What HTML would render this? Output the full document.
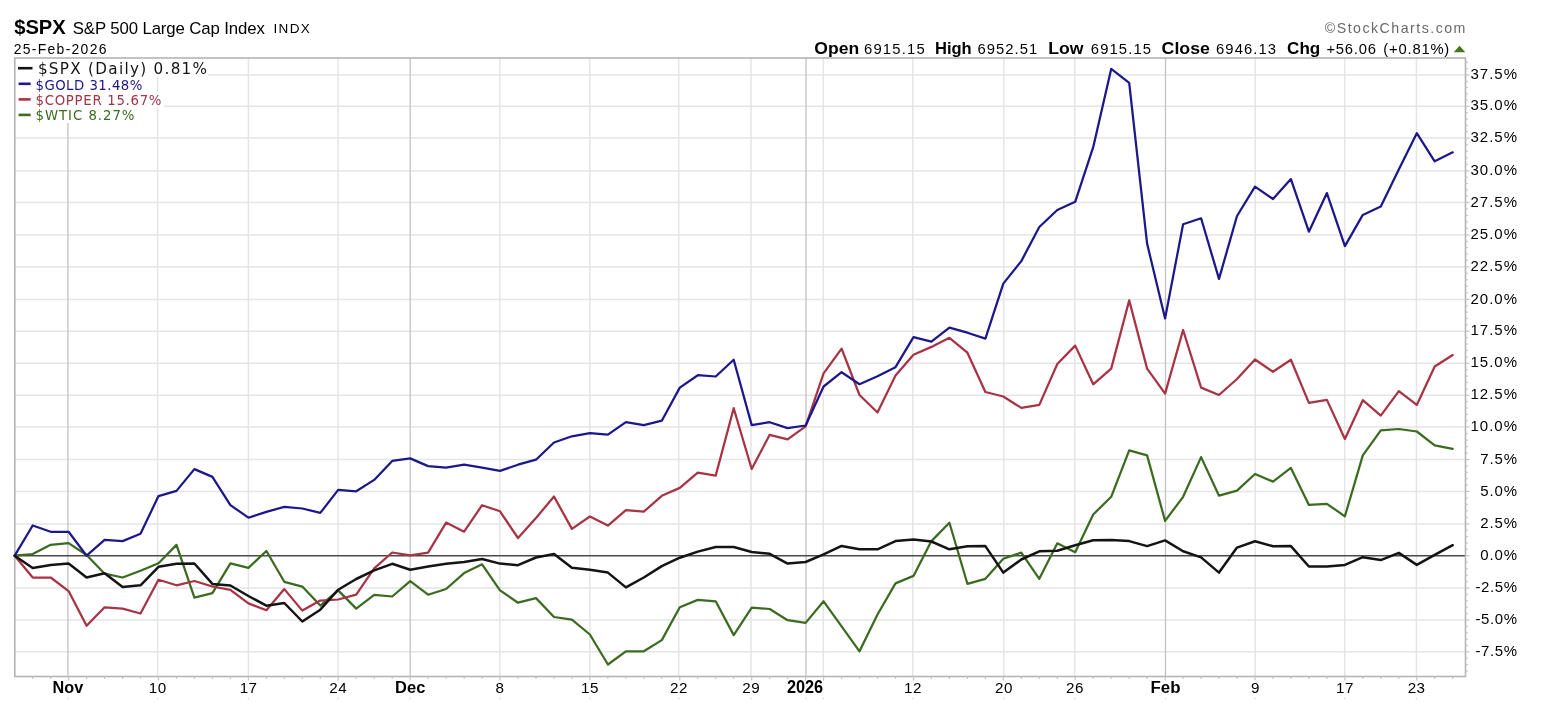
<!DOCTYPE html><html><head><meta charset="utf-8"><title>$SPX</title><style>html,body{margin:0;padding:0;background:#fff}svg{display:block}text{font-family:"Liberation Sans",sans-serif}.v{font-family:"DejaVu Sans",sans-serif}</style></head><body>
<svg width="1541" height="721" viewBox="0 0 1541 721">
<rect width="1541" height="721" fill="#fff"/>
<g stroke="#e5e5e5" stroke-width="1.5"><line x1="14.8" x2="1465.5" y1="651.8" y2="651.8"/><line x1="14.8" x2="1465.5" y1="620.0" y2="620.0"/><line x1="14.8" x2="1465.5" y1="588.1" y2="588.1"/><line x1="14.8" x2="1465.5" y1="523.9" y2="523.9"/><line x1="14.8" x2="1465.5" y1="491.4" y2="491.4"/><line x1="14.8" x2="1465.5" y1="459.6" y2="459.6"/><line x1="14.8" x2="1465.5" y1="427.1" y2="427.1"/><line x1="14.8" x2="1465.5" y1="395.3" y2="395.3"/><line x1="14.8" x2="1465.5" y1="363.3" y2="363.3"/><line x1="14.8" x2="1465.5" y1="331.2" y2="331.2"/><line x1="14.8" x2="1465.5" y1="299.4" y2="299.4"/><line x1="14.8" x2="1465.5" y1="266.7" y2="266.7"/><line x1="14.8" x2="1465.5" y1="234.9" y2="234.9"/><line x1="14.8" x2="1465.5" y1="202.5" y2="202.5"/><line x1="14.8" x2="1465.5" y1="170.9" y2="170.9"/><line x1="14.8" x2="1465.5" y1="138.1" y2="138.1"/><line x1="14.8" x2="1465.5" y1="106.3" y2="106.3"/><line x1="14.8" x2="1465.5" y1="75.0" y2="75.0"/></g>
<g stroke="#e5e5e5" stroke-width="1.5"><line x1="157.6" x2="157.6" y1="58.0" y2="676.5"/><line x1="248.4" x2="248.4" y1="58.0" y2="676.5"/><line x1="338.1" x2="338.1" y1="58.0" y2="676.5"/><line x1="499.8" x2="499.8" y1="58.0" y2="676.5"/><line x1="589.8" x2="589.8" y1="58.0" y2="676.5"/><line x1="678.7" x2="678.7" y1="58.0" y2="676.5"/><line x1="751.0" x2="751.0" y1="58.0" y2="676.5"/><line x1="823.3" x2="823.3" y1="58.0" y2="676.5"/><line x1="912.8" x2="912.8" y1="58.0" y2="676.5"/><line x1="1003.8" x2="1003.8" y1="58.0" y2="676.5"/><line x1="1074.7" x2="1074.7" y1="58.0" y2="676.5"/><line x1="1255.2" x2="1255.2" y1="58.0" y2="676.5"/><line x1="1344.7" x2="1344.7" y1="58.0" y2="676.5"/><line x1="1416.4" x2="1416.4" y1="58.0" y2="676.5"/></g>
<g stroke="#c4c4c4" stroke-width="1.35"><line x1="67.9" x2="67.9" y1="58.0" y2="676.5"/><line x1="410.2" x2="410.2" y1="58.0" y2="676.5"/><line x1="806.0" x2="806.0" y1="58.0" y2="676.5"/><line x1="1165.5" x2="1165.5" y1="58.0" y2="676.5"/></g>
<line x1="14.8" x2="1465.5" y1="555.7" y2="555.7" stroke="#4a4a4a" stroke-width="1.35"/>
<g fill="#fff"><rect x="15.4" y="58.8" width="192.6" height="18.2"/><rect x="16" y="77" width="128" height="15"/><rect x="16" y="92" width="148" height="16"/><rect x="16" y="108" width="122" height="15"/></g>
<rect x="14.8" y="58.0" width="1450.7" height="618.5" fill="none" stroke="#b4b4b4" stroke-width="1.6"/>
<g stroke="#c4c4c4" stroke-width="1.2"><line x1="1465.5" x2="1469.5" y1="651.8" y2="651.8"/><line x1="1465.5" x2="1467.9" y1="645.4" y2="645.4"/><line x1="1465.5" x2="1467.9" y1="639.1" y2="639.1"/><line x1="1465.5" x2="1467.9" y1="632.7" y2="632.7"/><line x1="1465.5" x2="1467.9" y1="626.4" y2="626.4"/><line x1="1465.5" x2="1469.5" y1="620.0" y2="620.0"/><line x1="1465.5" x2="1467.9" y1="613.6" y2="613.6"/><line x1="1465.5" x2="1467.9" y1="607.2" y2="607.2"/><line x1="1465.5" x2="1467.9" y1="600.9" y2="600.9"/><line x1="1465.5" x2="1467.9" y1="594.5" y2="594.5"/><line x1="1465.5" x2="1469.5" y1="588.1" y2="588.1"/><line x1="1465.5" x2="1467.9" y1="581.6" y2="581.6"/><line x1="1465.5" x2="1467.9" y1="575.1" y2="575.1"/><line x1="1465.5" x2="1467.9" y1="568.7" y2="568.7"/><line x1="1465.5" x2="1467.9" y1="562.2" y2="562.2"/><line x1="1465.5" x2="1469.5" y1="555.7" y2="555.7"/><line x1="1465.5" x2="1467.9" y1="549.3" y2="549.3"/><line x1="1465.5" x2="1467.9" y1="543.0" y2="543.0"/><line x1="1465.5" x2="1467.9" y1="536.6" y2="536.6"/><line x1="1465.5" x2="1467.9" y1="530.3" y2="530.3"/><line x1="1465.5" x2="1469.5" y1="523.9" y2="523.9"/><line x1="1465.5" x2="1467.9" y1="517.4" y2="517.4"/><line x1="1465.5" x2="1467.9" y1="510.9" y2="510.9"/><line x1="1465.5" x2="1467.9" y1="504.4" y2="504.4"/><line x1="1465.5" x2="1467.9" y1="497.9" y2="497.9"/><line x1="1465.5" x2="1469.5" y1="491.4" y2="491.4"/><line x1="1465.5" x2="1467.9" y1="485.0" y2="485.0"/><line x1="1465.5" x2="1467.9" y1="478.7" y2="478.7"/><line x1="1465.5" x2="1467.9" y1="472.3" y2="472.3"/><line x1="1465.5" x2="1467.9" y1="466.0" y2="466.0"/><line x1="1465.5" x2="1469.5" y1="459.6" y2="459.6"/><line x1="1465.5" x2="1467.9" y1="453.1" y2="453.1"/><line x1="1465.5" x2="1467.9" y1="446.6" y2="446.6"/><line x1="1465.5" x2="1467.9" y1="440.1" y2="440.1"/><line x1="1465.5" x2="1467.9" y1="433.6" y2="433.6"/><line x1="1465.5" x2="1469.5" y1="427.1" y2="427.1"/><line x1="1465.5" x2="1467.9" y1="420.7" y2="420.7"/><line x1="1465.5" x2="1467.9" y1="414.4" y2="414.4"/><line x1="1465.5" x2="1467.9" y1="408.0" y2="408.0"/><line x1="1465.5" x2="1467.9" y1="401.7" y2="401.7"/><line x1="1465.5" x2="1469.5" y1="395.3" y2="395.3"/><line x1="1465.5" x2="1467.9" y1="388.9" y2="388.9"/><line x1="1465.5" x2="1467.9" y1="382.5" y2="382.5"/><line x1="1465.5" x2="1467.9" y1="376.1" y2="376.1"/><line x1="1465.5" x2="1467.9" y1="369.7" y2="369.7"/><line x1="1465.5" x2="1469.5" y1="363.3" y2="363.3"/><line x1="1465.5" x2="1467.9" y1="356.9" y2="356.9"/><line x1="1465.5" x2="1467.9" y1="350.5" y2="350.5"/><line x1="1465.5" x2="1467.9" y1="344.0" y2="344.0"/><line x1="1465.5" x2="1467.9" y1="337.6" y2="337.6"/><line x1="1465.5" x2="1469.5" y1="331.2" y2="331.2"/><line x1="1465.5" x2="1467.9" y1="324.8" y2="324.8"/><line x1="1465.5" x2="1467.9" y1="318.5" y2="318.5"/><line x1="1465.5" x2="1467.9" y1="312.1" y2="312.1"/><line x1="1465.5" x2="1467.9" y1="305.8" y2="305.8"/><line x1="1465.5" x2="1469.5" y1="299.4" y2="299.4"/><line x1="1465.5" x2="1467.9" y1="292.9" y2="292.9"/><line x1="1465.5" x2="1467.9" y1="286.3" y2="286.3"/><line x1="1465.5" x2="1467.9" y1="279.8" y2="279.8"/><line x1="1465.5" x2="1467.9" y1="273.2" y2="273.2"/><line x1="1465.5" x2="1469.5" y1="266.7" y2="266.7"/><line x1="1465.5" x2="1467.9" y1="260.3" y2="260.3"/><line x1="1465.5" x2="1467.9" y1="254.0" y2="254.0"/><line x1="1465.5" x2="1467.9" y1="247.6" y2="247.6"/><line x1="1465.5" x2="1467.9" y1="241.3" y2="241.3"/><line x1="1465.5" x2="1469.5" y1="234.9" y2="234.9"/><line x1="1465.5" x2="1467.9" y1="228.4" y2="228.4"/><line x1="1465.5" x2="1467.9" y1="221.9" y2="221.9"/><line x1="1465.5" x2="1467.9" y1="215.5" y2="215.5"/><line x1="1465.5" x2="1467.9" y1="209.0" y2="209.0"/><line x1="1465.5" x2="1469.5" y1="202.5" y2="202.5"/><line x1="1465.5" x2="1467.9" y1="196.2" y2="196.2"/><line x1="1465.5" x2="1467.9" y1="189.9" y2="189.9"/><line x1="1465.5" x2="1467.9" y1="183.5" y2="183.5"/><line x1="1465.5" x2="1467.9" y1="177.2" y2="177.2"/><line x1="1465.5" x2="1469.5" y1="170.9" y2="170.9"/><line x1="1465.5" x2="1467.9" y1="164.3" y2="164.3"/><line x1="1465.5" x2="1467.9" y1="157.8" y2="157.8"/><line x1="1465.5" x2="1467.9" y1="151.2" y2="151.2"/><line x1="1465.5" x2="1467.9" y1="144.7" y2="144.7"/><line x1="1465.5" x2="1469.5" y1="138.1" y2="138.1"/><line x1="1465.5" x2="1467.9" y1="131.7" y2="131.7"/><line x1="1465.5" x2="1467.9" y1="125.4" y2="125.4"/><line x1="1465.5" x2="1467.9" y1="119.0" y2="119.0"/><line x1="1465.5" x2="1467.9" y1="112.7" y2="112.7"/><line x1="1465.5" x2="1469.5" y1="106.3" y2="106.3"/><line x1="1465.5" x2="1467.9" y1="100.0" y2="100.0"/><line x1="1465.5" x2="1467.9" y1="93.8" y2="93.8"/><line x1="1465.5" x2="1467.9" y1="87.5" y2="87.5"/><line x1="1465.5" x2="1467.9" y1="81.3" y2="81.3"/><line x1="1465.5" x2="1469.5" y1="75.0" y2="75.0"/><line x1="1465.5" x2="1467.9" y1="68.6" y2="68.6"/><line x1="1465.5" x2="1467.9" y1="62.2" y2="62.2"/><line x1="1465.5" x2="1467.9" y1="658.2" y2="658.2"/><line x1="1465.5" x2="1467.9" y1="664.6" y2="664.6"/><line x1="1465.5" x2="1467.9" y1="671.0" y2="671.0"/></g>
<g stroke="#c4c4c4" stroke-width="1.2"><line x1="32.7" x2="32.7" y1="676.5" y2="678.9"/><line x1="50.7" x2="50.7" y1="676.5" y2="678.9"/><line x1="68.6" x2="68.6" y1="676.5" y2="680.5"/><line x1="86.6" x2="86.6" y1="676.5" y2="678.9"/><line x1="104.6" x2="104.6" y1="676.5" y2="678.9"/><line x1="122.6" x2="122.6" y1="676.5" y2="678.9"/><line x1="140.5" x2="140.5" y1="676.5" y2="678.9"/><line x1="158.5" x2="158.5" y1="676.5" y2="680.5"/><line x1="176.5" x2="176.5" y1="676.5" y2="678.9"/><line x1="194.4" x2="194.4" y1="676.5" y2="678.9"/><line x1="212.4" x2="212.4" y1="676.5" y2="678.9"/><line x1="230.4" x2="230.4" y1="676.5" y2="678.9"/><line x1="248.4" x2="248.4" y1="676.5" y2="680.5"/><line x1="266.4" x2="266.4" y1="676.5" y2="678.9"/><line x1="284.3" x2="284.3" y1="676.5" y2="678.9"/><line x1="302.3" x2="302.3" y1="676.5" y2="678.9"/><line x1="320.3" x2="320.3" y1="676.5" y2="678.9"/><line x1="338.2" x2="338.2" y1="676.5" y2="680.5"/><line x1="356.2" x2="356.2" y1="676.5" y2="678.9"/><line x1="374.2" x2="374.2" y1="676.5" y2="678.9"/><line x1="392.2" x2="392.2" y1="676.5" y2="678.9"/><line x1="410.2" x2="410.2" y1="676.5" y2="680.5"/><line x1="428.1" x2="428.1" y1="676.5" y2="678.9"/><line x1="446.1" x2="446.1" y1="676.5" y2="678.9"/><line x1="464.1" x2="464.1" y1="676.5" y2="678.9"/><line x1="482.1" x2="482.1" y1="676.5" y2="678.9"/><line x1="500.0" x2="500.0" y1="676.5" y2="680.5"/><line x1="518.0" x2="518.0" y1="676.5" y2="678.9"/><line x1="536.0" x2="536.0" y1="676.5" y2="678.9"/><line x1="554.0" x2="554.0" y1="676.5" y2="678.9"/><line x1="571.9" x2="571.9" y1="676.5" y2="678.9"/><line x1="589.9" x2="589.9" y1="676.5" y2="680.5"/><line x1="607.9" x2="607.9" y1="676.5" y2="678.9"/><line x1="625.9" x2="625.9" y1="676.5" y2="678.9"/><line x1="643.8" x2="643.8" y1="676.5" y2="678.9"/><line x1="661.8" x2="661.8" y1="676.5" y2="678.9"/><line x1="679.8" x2="679.8" y1="676.5" y2="680.5"/><line x1="697.8" x2="697.8" y1="676.5" y2="678.9"/><line x1="715.7" x2="715.7" y1="676.5" y2="678.9"/><line x1="733.7" x2="733.7" y1="676.5" y2="678.9"/><line x1="751.7" x2="751.7" y1="676.5" y2="680.5"/><line x1="769.7" x2="769.7" y1="676.5" y2="678.9"/><line x1="787.6" x2="787.6" y1="676.5" y2="678.9"/><line x1="805.6" x2="805.6" y1="676.5" y2="680.5"/><line x1="823.6" x2="823.6" y1="676.5" y2="680.5"/><line x1="841.6" x2="841.6" y1="676.5" y2="678.9"/><line x1="859.5" x2="859.5" y1="676.5" y2="678.9"/><line x1="877.5" x2="877.5" y1="676.5" y2="678.9"/><line x1="895.5" x2="895.5" y1="676.5" y2="678.9"/><line x1="913.5" x2="913.5" y1="676.5" y2="680.5"/><line x1="931.4" x2="931.4" y1="676.5" y2="678.9"/><line x1="949.4" x2="949.4" y1="676.5" y2="678.9"/><line x1="967.4" x2="967.4" y1="676.5" y2="678.9"/><line x1="985.4" x2="985.4" y1="676.5" y2="678.9"/><line x1="1003.3" x2="1003.3" y1="676.5" y2="680.5"/><line x1="1021.3" x2="1021.3" y1="676.5" y2="678.9"/><line x1="1039.3" x2="1039.3" y1="676.5" y2="678.9"/><line x1="1057.3" x2="1057.3" y1="676.5" y2="678.9"/><line x1="1075.2" x2="1075.2" y1="676.5" y2="680.5"/><line x1="1093.2" x2="1093.2" y1="676.5" y2="678.9"/><line x1="1111.2" x2="1111.2" y1="676.5" y2="678.9"/><line x1="1129.2" x2="1129.2" y1="676.5" y2="678.9"/><line x1="1147.1" x2="1147.1" y1="676.5" y2="678.9"/><line x1="1165.1" x2="1165.1" y1="676.5" y2="680.5"/><line x1="1183.1" x2="1183.1" y1="676.5" y2="678.9"/><line x1="1201.1" x2="1201.1" y1="676.5" y2="678.9"/><line x1="1219.0" x2="1219.0" y1="676.5" y2="678.9"/><line x1="1237.0" x2="1237.0" y1="676.5" y2="678.9"/><line x1="1255.0" x2="1255.0" y1="676.5" y2="680.5"/><line x1="1273.0" x2="1273.0" y1="676.5" y2="678.9"/><line x1="1290.9" x2="1290.9" y1="676.5" y2="678.9"/><line x1="1308.9" x2="1308.9" y1="676.5" y2="678.9"/><line x1="1326.9" x2="1326.9" y1="676.5" y2="678.9"/><line x1="1344.9" x2="1344.9" y1="676.5" y2="680.5"/><line x1="1362.8" x2="1362.8" y1="676.5" y2="678.9"/><line x1="1380.8" x2="1380.8" y1="676.5" y2="678.9"/><line x1="1398.8" x2="1398.8" y1="676.5" y2="678.9"/><line x1="1416.8" x2="1416.8" y1="676.5" y2="680.5"/><line x1="1434.7" x2="1434.7" y1="676.5" y2="678.9"/><line x1="1452.7" x2="1452.7" y1="676.5" y2="678.9"/></g>
<polyline fill="none" stroke="#3b6b20" stroke-width="2.25" stroke-linejoin="round" stroke-linecap="round" points="14.7,555.7 32.7,554.0 50.7,544.8 68.6,543.1 86.6,555.0 104.6,573.7 122.6,577.5 140.5,570.7 158.5,563.2 176.5,544.9 194.4,597.6 212.4,593.1 230.4,563.4 248.4,567.9 266.4,551.0 284.3,581.8 302.3,586.6 320.3,605.6 338.2,590.4 356.2,608.6 374.2,594.9 392.2,596.5 410.2,581.1 428.1,594.7 446.1,589.0 464.1,573.1 482.1,564.3 500.0,590.4 518.0,602.7 536.0,598.1 554.0,617.0 571.9,619.7 589.9,634.5 607.9,664.5 625.9,651.3 643.8,651.3 661.8,640.1 679.8,607.2 697.8,599.9 715.7,601.3 733.7,635.1 751.7,607.7 769.7,609.0 787.6,620.2 805.6,622.9 823.6,601.3 841.6,626.3 859.5,651.3 877.5,614.5 895.5,583.4 913.5,575.9 931.4,541.1 949.4,522.8 967.4,583.8 985.4,578.8 1003.3,558.8 1021.3,552.6 1039.3,578.8 1057.3,543.3 1075.2,552.2 1093.2,514.5 1111.2,496.8 1129.2,450.4 1147.1,455.4 1165.1,520.9 1183.1,496.8 1201.1,457.1 1219.0,495.7 1237.0,490.6 1255.0,474.0 1273.0,481.6 1290.9,467.9 1308.9,504.9 1326.9,503.8 1344.9,516.3 1362.8,455.4 1380.8,430.3 1398.8,429.0 1416.8,431.5 1434.7,445.4 1452.7,448.9"/>
<polyline fill="none" stroke="#a73345" stroke-width="2.25" stroke-linejoin="round" stroke-linecap="round" points="14.7,555.7 32.7,577.5 50.7,577.5 68.6,591.1 86.6,625.8 104.6,607.3 122.6,608.7 140.5,613.5 158.5,579.7 176.5,585.3 194.4,581.0 212.4,586.5 230.4,589.8 248.4,603.4 266.4,610.2 284.3,589.1 302.3,610.6 320.3,600.6 338.2,599.5 356.2,594.7 374.2,568.3 392.2,552.5 410.2,555.3 428.1,552.6 446.1,522.6 464.1,531.7 482.1,505.2 500.0,511.3 518.0,538.0 536.0,518.0 554.0,496.5 571.9,528.9 589.9,516.5 607.9,525.6 625.9,510.2 643.8,511.7 661.8,495.8 679.8,487.9 697.8,472.7 715.7,475.6 733.7,408.2 751.7,469.0 769.7,434.8 787.6,439.4 805.6,426.4 823.6,373.4 841.6,348.6 859.5,395.0 877.5,412.5 895.5,375.6 913.5,354.7 931.4,346.9 949.4,337.8 967.4,352.7 985.4,392.0 1003.3,396.5 1021.3,407.9 1039.3,404.9 1057.3,364.0 1075.2,345.6 1093.2,384.3 1111.2,368.6 1129.2,300.4 1147.1,368.6 1165.1,393.6 1183.1,330.0 1201.1,387.6 1219.0,395.0 1237.0,379.0 1255.0,359.5 1273.0,371.8 1290.9,359.7 1308.9,402.9 1326.9,399.9 1344.9,439.0 1362.8,400.2 1380.8,415.6 1398.8,391.1 1416.8,404.9 1434.7,366.5 1452.7,355.0"/>
<polyline fill="none" stroke="#1c178a" stroke-width="2.25" stroke-linejoin="round" stroke-linecap="round" points="14.7,555.7 32.7,525.5 50.7,531.8 68.6,531.8 86.6,555.7 104.6,539.9 122.6,541.1 140.5,533.7 158.5,496.1 176.5,490.9 194.4,469.1 212.4,476.9 230.4,505.1 248.4,517.7 266.4,511.9 284.3,506.8 302.3,508.5 320.3,512.9 338.2,489.9 356.2,491.3 374.2,479.9 392.2,460.9 410.2,458.4 428.1,466.1 446.1,467.7 464.1,464.7 482.1,467.7 500.0,470.9 518.0,464.7 536.0,459.7 554.0,442.5 571.9,436.3 589.9,433.2 607.9,434.7 625.9,422.2 643.8,425.1 661.8,420.7 679.8,387.6 697.8,375.2 715.7,376.5 733.7,359.7 751.7,425.1 769.7,422.2 787.6,428.1 805.6,425.5 823.6,386.5 841.6,372.2 859.5,384.2 877.5,376.3 895.5,367.2 913.5,337.2 931.4,341.6 949.4,327.6 967.4,332.7 985.4,338.6 1003.3,283.6 1021.3,261.1 1039.3,227.0 1057.3,210.0 1075.2,201.8 1093.2,147.2 1111.2,68.9 1129.2,82.9 1147.1,243.6 1165.1,318.4 1183.1,224.3 1201.1,218.3 1219.0,278.9 1237.0,216.0 1255.0,186.6 1273.0,199.0 1290.9,179.1 1308.9,231.7 1326.9,193.1 1344.9,246.1 1362.8,214.9 1380.8,206.5 1398.8,169.5 1416.8,133.2 1434.7,161.3 1452.7,152.3"/>
<polyline fill="none" stroke="#141414" stroke-width="2.5" stroke-linejoin="round" stroke-linecap="round" points="14.7,555.7 32.7,568.0 50.7,564.9 68.6,563.5 86.6,577.5 104.6,573.2 122.6,586.9 140.5,585.3 158.5,566.8 176.5,563.7 194.4,563.5 212.4,583.9 230.4,585.5 248.4,596.0 266.4,605.7 284.3,603.0 302.3,621.5 320.3,609.7 338.2,589.7 356.2,579.0 374.2,570.4 392.2,563.8 410.2,569.7 428.1,566.5 446.1,563.8 464.1,562.0 482.1,559.0 500.0,563.6 518.0,565.2 536.0,557.5 554.0,554.0 571.9,567.7 589.9,569.7 607.9,572.6 625.9,587.4 643.8,577.5 661.8,566.1 679.8,557.7 697.8,551.6 715.7,547.0 733.7,547.0 751.7,552.0 769.7,553.8 787.6,563.6 805.6,562.0 823.6,554.3 841.6,545.9 859.5,549.3 877.5,549.3 895.5,541.1 913.5,539.5 931.4,541.5 949.4,549.3 967.4,546.3 985.4,546.1 1003.3,572.6 1021.3,559.5 1039.3,551.3 1057.3,550.8 1075.2,545.2 1093.2,540.2 1111.2,539.9 1129.2,541.1 1147.1,546.1 1165.1,540.4 1183.1,551.3 1201.1,557.4 1219.0,572.6 1237.0,547.6 1255.0,541.3 1273.0,546.2 1290.9,546.1 1308.9,566.5 1326.9,566.5 1344.9,564.9 1362.8,557.2 1380.8,560.1 1398.8,552.9 1416.8,564.9 1434.7,554.9 1452.7,545.2"/>
<text x="1475.5" y="655.9" font-size="15" textLength="41.5" lengthAdjust="spacing">-7.5%</text>
<text x="1475.5" y="624.1" font-size="15" textLength="41.5" lengthAdjust="spacing">-5.0%</text>
<text x="1475.5" y="592.2" font-size="15" textLength="41.5" lengthAdjust="spacing">-2.5%</text>
<text x="1480.3" y="559.8" font-size="15" textLength="36.7" lengthAdjust="spacing">0.0%</text>
<text x="1480.3" y="528.0" font-size="15" textLength="36.7" lengthAdjust="spacing">2.5%</text>
<text x="1480.3" y="495.5" font-size="15" textLength="36.7" lengthAdjust="spacing">5.0%</text>
<text x="1480.3" y="463.7" font-size="15" textLength="36.7" lengthAdjust="spacing">7.5%</text>
<text x="1470.5" y="431.2" font-size="15" textLength="46.5" lengthAdjust="spacing">10.0%</text>
<text x="1470.5" y="399.4" font-size="15" textLength="46.5" lengthAdjust="spacing">12.5%</text>
<text x="1470.5" y="367.4" font-size="15" textLength="46.5" lengthAdjust="spacing">15.0%</text>
<text x="1470.5" y="335.3" font-size="15" textLength="46.5" lengthAdjust="spacing">17.5%</text>
<text x="1470.5" y="303.5" font-size="15" textLength="46.5" lengthAdjust="spacing">20.0%</text>
<text x="1470.5" y="270.8" font-size="15" textLength="46.5" lengthAdjust="spacing">22.5%</text>
<text x="1470.5" y="239.0" font-size="15" textLength="46.5" lengthAdjust="spacing">25.0%</text>
<text x="1470.5" y="206.6" font-size="15" textLength="46.5" lengthAdjust="spacing">27.5%</text>
<text x="1470.5" y="175.0" font-size="15" textLength="46.5" lengthAdjust="spacing">30.0%</text>
<text x="1470.5" y="142.2" font-size="15" textLength="46.5" lengthAdjust="spacing">32.5%</text>
<text x="1470.5" y="110.4" font-size="15" textLength="46.5" lengthAdjust="spacing">35.0%</text>
<text x="1470.5" y="79.1" font-size="15" textLength="46.5" lengthAdjust="spacing">37.5%</text>
<text x="52.6" y="692.9" font-size="17.2" font-weight="bold" textLength="30.6" lengthAdjust="spacingAndGlyphs">Nov</text>
<text x="157.8" y="692.9" font-size="15.2" text-anchor="middle" letter-spacing="0.5">10</text>
<text x="248.6" y="692.9" font-size="15.2" text-anchor="middle" letter-spacing="0.5">17</text>
<text x="338.3" y="692.9" font-size="15.2" text-anchor="middle" letter-spacing="0.5">24</text>
<text x="395.1" y="692.9" font-size="17.2" font-weight="bold" textLength="30.2" lengthAdjust="spacingAndGlyphs">Dec</text>
<text x="500.0" y="692.9" font-size="15.2" text-anchor="middle" letter-spacing="0.5">8</text>
<text x="590.0" y="692.9" font-size="15.2" text-anchor="middle" letter-spacing="0.5">15</text>
<text x="678.9" y="692.9" font-size="15.2" text-anchor="middle" letter-spacing="0.5">22</text>
<text x="751.2" y="692.9" font-size="15.2" text-anchor="middle" letter-spacing="0.5">29</text>
<text x="786.9" y="692.9" font-size="17.8" font-weight="bold" textLength="36.2" lengthAdjust="spacingAndGlyphs">2026</text>
<text x="913.0" y="692.9" font-size="15.2" text-anchor="middle" letter-spacing="0.5">12</text>
<text x="1004.0" y="692.9" font-size="15.2" text-anchor="middle" letter-spacing="0.5">20</text>
<text x="1074.9" y="692.9" font-size="15.2" text-anchor="middle" letter-spacing="0.5">26</text>
<text x="1150.5" y="692.9" font-size="17.2" font-weight="bold" textLength="30.0" lengthAdjust="spacingAndGlyphs">Feb</text>
<text x="1255.4" y="692.9" font-size="15.2" text-anchor="middle" letter-spacing="0.5">9</text>
<text x="1344.9" y="692.9" font-size="15.2" text-anchor="middle" letter-spacing="0.5">17</text>
<text x="1416.6" y="692.9" font-size="15.2" text-anchor="middle" letter-spacing="0.5">23</text>
<rect x="67.2" y="697.8" width="1.4" height="1.6" fill="#dcdcdc"/>
<rect x="156.9" y="697.8" width="1.4" height="1.6" fill="#dcdcdc"/>
<rect x="247.7" y="697.8" width="1.4" height="1.6" fill="#dcdcdc"/>
<rect x="337.4" y="697.8" width="1.4" height="1.6" fill="#dcdcdc"/>
<rect x="409.5" y="697.8" width="1.4" height="1.6" fill="#dcdcdc"/>
<rect x="499.1" y="697.8" width="1.4" height="1.6" fill="#dcdcdc"/>
<rect x="589.1" y="697.8" width="1.4" height="1.6" fill="#dcdcdc"/>
<rect x="678.0" y="697.8" width="1.4" height="1.6" fill="#dcdcdc"/>
<rect x="750.3" y="697.8" width="1.4" height="1.6" fill="#dcdcdc"/>
<rect x="805.3" y="697.8" width="1.4" height="1.6" fill="#dcdcdc"/>
<rect x="822.6" y="697.8" width="1.4" height="1.6" fill="#dcdcdc"/>
<rect x="912.1" y="697.8" width="1.4" height="1.6" fill="#dcdcdc"/>
<rect x="1003.1" y="697.8" width="1.4" height="1.6" fill="#dcdcdc"/>
<rect x="1074.0" y="697.8" width="1.4" height="1.6" fill="#dcdcdc"/>
<rect x="1164.8" y="697.8" width="1.4" height="1.6" fill="#dcdcdc"/>
<rect x="1254.5" y="697.8" width="1.4" height="1.6" fill="#dcdcdc"/>
<rect x="1344.0" y="697.8" width="1.4" height="1.6" fill="#dcdcdc"/>
<rect x="1415.7" y="697.8" width="1.4" height="1.6" fill="#dcdcdc"/>
<text x="14.2" y="34.3" font-size="20.5" font-weight="bold" textLength="51.6" lengthAdjust="spacingAndGlyphs">$SPX</text>
<text x="72.8" y="33.6" font-size="16.8" textLength="192" lengthAdjust="spacing">S&amp;P 500 Large Cap Index</text>
<text x="273.4" y="33.4" font-size="13.5" textLength="36.4" lengthAdjust="spacing">INDX</text>
<text x="13.8" y="53.7" font-size="13.9" textLength="92.6" lengthAdjust="spacing">25-Feb-2026</text>
<text x="814.3" y="53.5" font-size="17" font-weight="bold" textLength="44.8" lengthAdjust="spacingAndGlyphs">Open</text>
<text x="864.0" y="53.5" font-size="14.8" textLength="60.7" lengthAdjust="spacing">6915.15</text>
<text x="935.0" y="53.5" font-size="17" font-weight="bold" textLength="36.7" lengthAdjust="spacingAndGlyphs">High</text>
<text x="977.6" y="53.5" font-size="14.8" textLength="59.6" lengthAdjust="spacing">6952.51</text>
<text x="1048.2" y="53.5" font-size="17" font-weight="bold" textLength="35.3" lengthAdjust="spacingAndGlyphs">Low</text>
<text x="1090.8" y="53.5" font-size="14.8" textLength="60.2" lengthAdjust="spacing">6915.15</text>
<text x="1161.6" y="53.5" font-size="17" font-weight="bold" textLength="48.3" lengthAdjust="spacingAndGlyphs">Close</text>
<text x="1216.0" y="53.5" font-size="14.8" textLength="60.0" lengthAdjust="spacing">6946.13</text>
<text x="1287.1" y="53.5" font-size="17" font-weight="bold" textLength="33.1" lengthAdjust="spacingAndGlyphs">Chg</text>
<text x="1326.4" y="53.5" font-size="14.8" textLength="49.6" lengthAdjust="spacing">+56.06</text>
<text x="1383.3" y="53.5" font-size="14.8" textLength="66.0" lengthAdjust="spacing">(+0.81%)</text>
<polygon points="1453.7,52.2 1465.4,52.2 1459.5,45.8" fill="#3f7a22"/>
<text x="1324.8" y="32.7" font-size="14.2" fill="#6a6a6a" textLength="140.6" lengthAdjust="spacing">©StockCharts.com</text>
<g stroke-width="2.6"><line x1="18" x2="32.5" y1="68.2" y2="68.2" stroke="#141414"/><line x1="18.6" x2="30.7" y1="83.8" y2="83.8" stroke="#1c178a"/><line x1="18.6" x2="30.7" y1="99.4" y2="99.4" stroke="#a73345"/><line x1="18.6" x2="30.7" y1="114.9" y2="114.9" stroke="#3b6b20"/></g>
<text class="v" x="37.9" y="73.9" font-size="15.2" textLength="169.1" lengthAdjust="spacing" fill="#141414">$SPX (Daily) 0.81%</text>
<text class="v" x="35.5" y="89.6" font-size="13.3" textLength="106.9" lengthAdjust="spacing" fill="#1c178a">$GOLD 31.48%</text>
<text class="v" x="35.5" y="105.1" font-size="13.3" textLength="126" lengthAdjust="spacing" fill="#a73345">$COPPER 15.67%</text>
<text class="v" x="35.5" y="120.4" font-size="13.3" textLength="99" lengthAdjust="spacing" fill="#3b6b20">$WTIC 8.27%</text>
</svg></body></html>
